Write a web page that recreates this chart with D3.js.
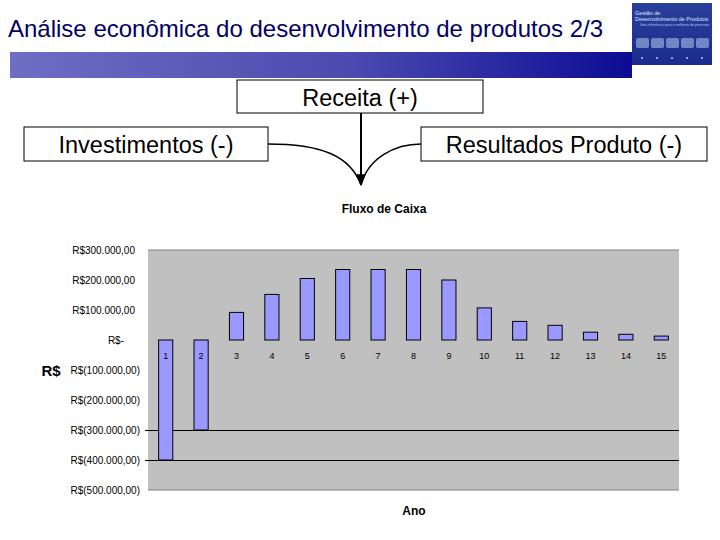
<!DOCTYPE html>
<html><head><meta charset="utf-8">
<script src="https://cdn.jsdelivr.net/npm/d3@7"></script>
<style>body{margin:0;background:#fff}svg{display:block}</style>
</head><body>
<svg id="c" width="720" height="540"></svg>
<script>
const years = [1,2,3,4,5,6,7,8,9,10,11,12,13,14,15];
const fluxo = [-400000,-300000,92000,152000,205000,235000,235000,235000,200000,107000,62000,49000,26000,19000,13000];
const yTicks = [300000,200000,100000,0,-100000,-200000,-300000,-400000,-500000];
const refLines = [-300000,-400000];
const slideTitle = "Análise econômica do desenvolvimento de produtos 2/3";
const chartTitle = "Fluxo de Caixa";
const xTitle = "Ano";
const yTitle = "R$";
const boxes = [
  {label:"Receita (+)", x0:237, x1:483, y0:80, y1:113},
  {label:"Investimentos (-)", x0:24, x1:268, y0:127, y1:161},
  {label:"Resultados Produto (-)", x0:421, x1:707, y0:127, y1:161}
];

const svg = d3.select("#c");
const defs = svg.append("defs");
const g1 = defs.append("linearGradient").attr("id","bar").attr("x1","0").attr("x2","1");
g1.append("stop").attr("offset","0").attr("stop-color","#6e6ec4");
g1.append("stop").attr("offset","0.55").attr("stop-color","#4a4ab0");
g1.append("stop").attr("offset","1").attr("stop-color","#0c0c94");
const g2 = defs.append("linearGradient").attr("id","logo").attr("x1","0").attr("x2","0").attr("y1","0").attr("y2","1");
g2.append("stop").attr("offset","0").attr("stop-color","#2a3f9a");
g2.append("stop").attr("offset","1").attr("stop-color","#1b2c8c");
defs.append("marker").attr("id","arr").attr("viewBox","0 0 10 10").attr("refX",9).attr("refY",5)
  .attr("markerWidth",6).attr("markerHeight",6).attr("orient","auto")
  .append("path").attr("d","M0,1L10,5L0,9z").attr("fill","#000");

// slide header
svg.append("text").attr("x",8).attr("y",37).attr("font-family","Liberation Sans, Arial, sans-serif")
  .attr("font-size",24).attr("fill","#000066").text(slideTitle);
svg.append("rect").attr("x",10).attr("y",52).attr("width",622).attr("height",26).attr("fill","url(#bar)");
// logo
svg.append("rect").attr("x",632).attr("y",3).attr("width",80).attr("height",62).attr("fill","url(#logo)");
const lg = svg.append("g").attr("font-family","Liberation Sans, Arial, sans-serif").attr("fill","#dfe6ff");
lg.append("text").attr("x",635).attr("y",15).attr("font-size",5.5).text("Gestão de");
lg.append("text").attr("x",635).attr("y",21).attr("font-size",5.5).text("Desenvolvimento de Produtos");
lg.append("text").attr("x",709).attr("y",26).attr("font-size",3.5).attr("text-anchor","end").attr("fill","#b9c6ff").text("Uma referência para a melhoria do processo");
[0,1,2,3,4].forEach(i=>{
  svg.append("rect").attr("x",636+i*15).attr("y",38).attr("width",13).attr("height",10).attr("rx",2).attr("fill","#8a9ad0").attr("opacity",0.8);
  svg.append("circle").attr("cx",642+i*15).attr("cy",58).attr("r",1).attr("fill","#c0c8f0");
});

// boxes
boxes.forEach(b=>{
  svg.append("rect").attr("x",b.x0).attr("y",b.y0).attr("width",b.x1-b.x0).attr("height",b.y1-b.y0)
    .attr("fill","#fff").attr("stroke","#000").attr("stroke-width",1);
  svg.append("text").attr("x",(b.x0+b.x1)/2).attr("y",(b.y0+b.y1)/2+9).attr("text-anchor","middle")
    .attr("font-family","Liberation Sans, Arial, sans-serif").attr("font-size",23.5).attr("fill","#000").text(b.label);
});
// arrows
const tip = [361,185];
svg.append("path").attr("d",`M361,113L${tip[0]},${tip[1]}`).attr("stroke","#000").attr("stroke-width",2).attr("fill","none").attr("marker-end","url(#arr)");
svg.append("path").attr("d",`M268,144C320,144 350,155 ${tip[0]},${tip[1]}`).attr("stroke","#000").attr("stroke-width",1.5).attr("fill","none");
svg.append("path").attr("d",`M421,144C395,144 368,158 ${tip[0]},${tip[1]}`).attr("stroke","#000").attr("stroke-width",1.5).attr("fill","none");

// chart
const L=148, R=679, T=250, B=490;
const x = d3.scaleBand().domain(years).range([L,R]).paddingInner(0.6).paddingOuter(0.3);
const y = d3.scaleLinear().domain([-500000,300000]).range([B,T]);
svg.append("rect").attr("x",L).attr("y",T).attr("width",R-L).attr("height",B-T).attr("fill","#c0c0c0");
svg.append("line").attr("x1",L).attr("x2",R).attr("y1",T).attr("y2",T).attr("stroke","#808080");
svg.append("line").attr("x1",L).attr("x2",R).attr("y1",B).attr("y2",B).attr("stroke","#808080");
svg.selectAll("line.ref").data(refLines).join("line").attr("class","ref")
  .attr("x1",L-3).attr("x2",R).attr("y1",d=>Math.round(y(d))+0.5).attr("y2",d=>Math.round(y(d))+0.5)
  .attr("stroke","#000").attr("stroke-width",1);
svg.selectAll("rect.bar").data(fluxo).join("rect").attr("class","bar")
  .attr("x",(d,i)=>x(years[i])).attr("width",x.bandwidth())
  .attr("y",d=>y(Math.max(0,d))).attr("height",d=>Math.abs(y(d)-y(0)))
  .attr("fill","#9999ff").attr("stroke","#000").attr("stroke-width",1);

const fmt = v => {
  if (v===0) return "R$-";
  const s = d3.format(",.2f")(Math.abs(v)).replace(/,/g,"#").replace(".",",").replace(/#/g,".");
  return v<0 ? `R$(${s})` : `R$${s}`;
};
const ax = svg.append("g").attr("font-family","Liberation Sans, Arial, sans-serif").attr("font-size",10).attr("fill","#000");
ax.selectAll("text").data(yTicks).join("text")
  .attr("x",d=>d===0?124:(d<0?140:135)).attr("y",d=>y(d)+4).attr("text-anchor","end").text(fmt);
svg.append("g").selectAll("text").data(years).join("text")
  .attr("x",d=>x(d)+x.bandwidth()/2).attr("y",y(0)+19).attr("text-anchor","middle")
  .attr("font-family","Liberation Sans, Arial, sans-serif").attr("font-size",9).text(d=>d);

svg.append("text").attr("x",384).attr("y",213).attr("text-anchor","middle").attr("font-family","Liberation Sans, Arial, sans-serif")
  .attr("font-size",12).attr("font-weight","bold").text(chartTitle);
svg.append("text").attr("x",414).attr("y",515).attr("text-anchor","middle").attr("font-family","Liberation Sans, Arial, sans-serif")
  .attr("font-size",12).attr("font-weight","bold").text(xTitle);
svg.append("text").attr("x",51).attr("y",376).attr("text-anchor","middle").attr("font-family","Liberation Sans, Arial, sans-serif")
  .attr("font-size",15).attr("font-weight","bold").text(yTitle);
</script>
</body></html>
